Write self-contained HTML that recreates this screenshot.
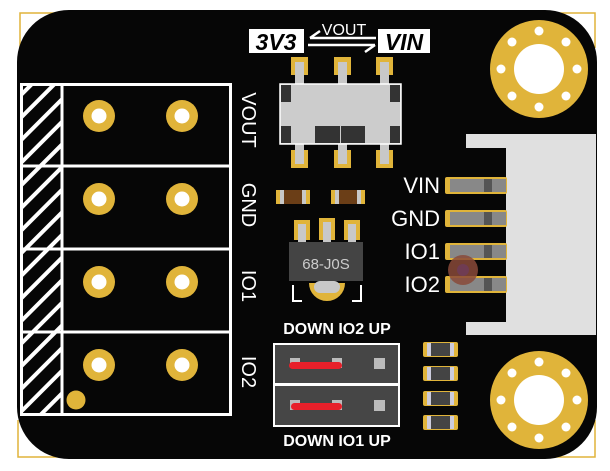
<!DOCTYPE html>
<html><head><meta charset="utf-8"><style>
html,body{margin:0;padding:0;background:#fff;}
svg{display:block;}
text{font-family:"Liberation Sans",sans-serif;}
</style></head><body>
<svg width="610" height="471" viewBox="0 0 610 471" xmlns="http://www.w3.org/2000/svg">
<defs>
<pattern id="hatch" patternUnits="userSpaceOnUse" width="16" height="16" patternTransform="rotate(45)">
<rect x="0" y="0" width="4" height="16" fill="#fff"/>
</pattern>
</defs>
<!-- corner gold lines -->
<path d="M20 48 V13 H60" fill="none" stroke="#e0b43a" stroke-width="1.5"/>
<path d="M18 420 V457 H60" fill="none" stroke="#e0b43a" stroke-width="1.5"/>
<path d="M555 13 H595 V48" fill="none" stroke="#e0b43a" stroke-width="1.5"/>
<path d="M555 457 H595 V420" fill="none" stroke="#e0b43a" stroke-width="1.5"/>
<!-- board -->
<rect x="17" y="10" width="580" height="449" rx="52" fill="#060606"/>

<!-- terminal block -->
<rect x="21.5" y="84.5" width="209" height="330" fill="none" stroke="#fff" stroke-width="3"/>
<rect x="23" y="86" width="38" height="327" fill="url(#hatch)"/>
<line x1="62" y1="84" x2="62" y2="414" stroke="#fff" stroke-width="3"/>
<line x1="20" y1="166" x2="231" y2="166" stroke="#fff" stroke-width="3"/>
<line x1="20" y1="249" x2="231" y2="249" stroke="#fff" stroke-width="3"/>
<line x1="20" y1="332" x2="231" y2="332" stroke="#fff" stroke-width="3"/>
<g fill="#e0b43a">
<circle cx="99" cy="116" r="16"/><circle cx="182" cy="116" r="16"/>
<circle cx="99" cy="199" r="16"/><circle cx="182" cy="199" r="16"/>
<circle cx="99" cy="282" r="16"/><circle cx="182" cy="282" r="16"/>
<circle cx="99" cy="365" r="16"/><circle cx="182" cy="365" r="16"/>
<circle cx="76" cy="400" r="9.5"/>
</g>
<g fill="#fff">
<circle cx="99" cy="116" r="7.5"/><circle cx="182" cy="116" r="7.5"/>
<circle cx="99" cy="199" r="7.5"/><circle cx="182" cy="199" r="7.5"/>
<circle cx="99" cy="282" r="7.5"/><circle cx="182" cy="282" r="7.5"/>
<circle cx="99" cy="365" r="7.5"/><circle cx="182" cy="365" r="7.5"/>
</g>

<!-- rotated labels -->
<g fill="#fff" font-size="20" text-anchor="middle">
<text transform="translate(242,120) rotate(90)">VOUT</text>
<text transform="translate(242,205) rotate(90)">GND</text>
<text transform="translate(242,286) rotate(90)">IO1</text>
<text transform="translate(242,372) rotate(90)">IO2</text>
</g>

<!-- switch header text -->
<rect x="249" y="29" width="55" height="24" fill="#fff"/>
<text x="276" y="50" font-size="23" font-weight="bold" font-style="italic" text-anchor="middle" fill="#000">3V3</text>
<rect x="378" y="29" width="52" height="24" fill="#fff"/>
<text x="404" y="50" font-size="23" font-weight="bold" font-style="italic" text-anchor="middle" fill="#000">VIN</text>
<text x="344" y="35" font-size="16" text-anchor="middle" fill="#fff">VOUT</text>
<g stroke="#fff" stroke-width="2.5" fill="none">
<path d="M310 38 H376 M310 38 L320 31"/>
<path d="M308 45 H375 M375 45 L365 52"/>
</g>

<!-- switch -->
<g fill="#e0b43a">
<rect x="291" y="57" width="17" height="18"/><rect x="334" y="57" width="17" height="18"/><rect x="376" y="57" width="17" height="18"/>
<rect x="291" y="150" width="17" height="18"/><rect x="334" y="150" width="17" height="18"/><rect x="376" y="150" width="17" height="18"/>
</g>
<g fill="#c8c8c8">
<rect x="295" y="62" width="9" height="22"/><rect x="338" y="62" width="9" height="22"/><rect x="380" y="62" width="9" height="22"/>
<rect x="295" y="143" width="9" height="21"/><rect x="338" y="143" width="9" height="21"/><rect x="380" y="143" width="9" height="21"/>
</g>
<rect x="280" y="84" width="121" height="60" fill="#cccccc" stroke="#fff" stroke-width="1.5"/>
<g fill="#333">
<rect x="281" y="85" width="10" height="17"/><rect x="390" y="85" width="10" height="17"/>
<rect x="281" y="126" width="10" height="17"/><rect x="390" y="126" width="10" height="17"/>
<rect x="315" y="126" width="25" height="17"/><rect x="341" y="126" width="24" height="17"/>
</g>

<!-- resistors -->
<g>
<rect x="276" y="190" width="34" height="14" fill="#e0b43a"/>
<rect x="280" y="190" width="26" height="14" fill="#c8c8c8"/>
<rect x="284" y="190" width="18" height="14" fill="#6b3e17"/>
<rect x="331" y="190" width="34" height="14" fill="#e0b43a"/>
<rect x="335" y="190" width="26" height="14" fill="#c8c8c8"/>
<rect x="339" y="190" width="18" height="14" fill="#6b3e17"/>
</g>

<!-- regulator -->
<g fill="#e0b43a">
<rect x="294" y="220" width="16" height="20"/><rect x="319" y="218" width="16" height="22"/><rect x="344" y="220" width="16" height="20"/>
</g>
<g fill="#c8c8c8">
<rect x="298" y="224" width="8" height="20"/><rect x="323" y="222" width="8" height="22"/><rect x="348" y="224" width="8" height="20"/>
</g>
<rect x="289" y="242" width="74" height="39" fill="#444"/>
<text x="326" y="269" font-size="15" font-family="Liberation Serif,serif" text-anchor="middle" fill="#ccc">68-J0S</text>
<path d="M310 283 A17 17 0 0 0 344 283 Z" fill="#e0b43a"/>
<path d="M310 283 A17 17 0 0 0 344 283" fill="none" stroke="#e0b43a" stroke-width="2"/>
<rect x="314" y="281" width="26" height="12" rx="6" fill="#c8c8c8"/>
<path d="M293 285 V301 H302 M361 285 V301 H352" fill="none" stroke="#fff" stroke-width="2"/>

<!-- right labels -->
<g fill="#fff" font-size="22" text-anchor="end">
<text x="440" y="193">VIN</text>
<text x="440" y="226">GND</text>
<text x="440" y="259">IO1</text>
<text x="440" y="292">IO2</text>
</g>

<!-- connector -->
<path d="M466 134 H596 V335 H466 V322 H506 V148 H466 Z" fill="#e0e0e0"/>
<g>
<rect x="445" y="177" width="62" height="17" rx="2" fill="#e0b43a"/><rect x="450" y="179" width="56" height="13" fill="#888"/><rect x="484" y="179" width="8" height="13" fill="#555"/>
<rect x="445" y="210" width="62" height="17" rx="2" fill="#e0b43a"/><rect x="450" y="212" width="56" height="13" fill="#888"/><rect x="484" y="212" width="8" height="13" fill="#555"/>
<rect x="445" y="243" width="62" height="17" rx="2" fill="#e0b43a"/><rect x="450" y="245" width="56" height="13" fill="#888"/><rect x="484" y="245" width="8" height="13" fill="#555"/>
<rect x="445" y="276" width="62" height="17" rx="2" fill="#e0b43a"/><rect x="450" y="278" width="56" height="13" fill="#888"/><rect x="484" y="278" width="8" height="13" fill="#555"/>
</g>
<circle cx="463" cy="270" r="15" fill="#8a4a3a" opacity="0.85"/>
<circle cx="463" cy="270" r="6" fill="#6a3a6a" opacity="0.6"/>

<!-- mounting holes -->
<g>
<circle cx="539" cy="69" r="49" fill="#e0b43a"/><circle cx="539" cy="69" r="25" fill="#fff"/>
<circle cx="539" cy="400" r="49" fill="#e0b43a"/><circle cx="539" cy="400" r="25" fill="#fff"/>
<g fill="#fff">
<circle cx="539" cy="31" r="4.5"/><circle cx="539" cy="107" r="4.5"/><circle cx="501" cy="69" r="4.5"/><circle cx="577" cy="69" r="4.5"/>
<circle cx="512" cy="42" r="4.5"/><circle cx="566" cy="42" r="4.5"/><circle cx="512" cy="96" r="4.5"/><circle cx="566" cy="96" r="4.5"/>
<circle cx="539" cy="362" r="4.5"/><circle cx="539" cy="438" r="4.5"/><circle cx="501" cy="400" r="4.5"/><circle cx="577" cy="400" r="4.5"/>
<circle cx="512" cy="373" r="4.5"/><circle cx="566" cy="373" r="4.5"/><circle cx="512" cy="427" r="4.5"/><circle cx="566" cy="427" r="4.5"/>
</g>
</g>

<!-- jumper block -->
<text x="337" y="334" font-size="16" font-weight="bold" text-anchor="middle" fill="#fff">DOWN IO2  UP</text>
<text x="337" y="446" font-size="16" font-weight="bold" text-anchor="middle" fill="#fff">DOWN IO1  UP</text>
<rect x="273" y="343" width="127" height="84" fill="#fff"/>
<rect x="275" y="345" width="123" height="38" fill="#464646"/>
<rect x="275" y="386" width="123" height="39" fill="#464646"/>
<g fill="#bbb">
<rect x="290" y="358" width="10" height="10"/><rect x="332" y="358" width="10" height="10"/><rect x="374" y="358" width="11" height="11"/>
<rect x="290" y="400" width="10" height="10"/><rect x="332" y="400" width="10" height="10"/><rect x="374" y="400" width="11" height="11"/>
</g>
<rect x="289" y="362" width="53" height="7" rx="3.5" fill="#e8202a"/>
<rect x="291" y="403" width="51" height="7" rx="3.5" fill="#e8202a"/>

<!-- small caps -->
<g>
<rect x="423" y="342" width="35" height="15" rx="2" fill="#e0b43a"/><rect x="427" y="343" width="27" height="13" fill="#ccd"/><rect x="431" y="343" width="19" height="13" fill="#444"/>
<rect x="423" y="366" width="35" height="15" rx="2" fill="#e0b43a"/><rect x="427" y="367" width="27" height="13" fill="#ccd"/><rect x="431" y="367" width="19" height="13" fill="#444"/>
<rect x="423" y="391" width="35" height="15" rx="2" fill="#e0b43a"/><rect x="427" y="392" width="27" height="13" fill="#ccd"/><rect x="431" y="392" width="19" height="13" fill="#444"/>
<rect x="423" y="415" width="35" height="15" rx="2" fill="#e0b43a"/><rect x="427" y="416" width="27" height="13" fill="#ccd"/><rect x="431" y="416" width="19" height="13" fill="#444"/>
</g>
</svg>
</body></html>
